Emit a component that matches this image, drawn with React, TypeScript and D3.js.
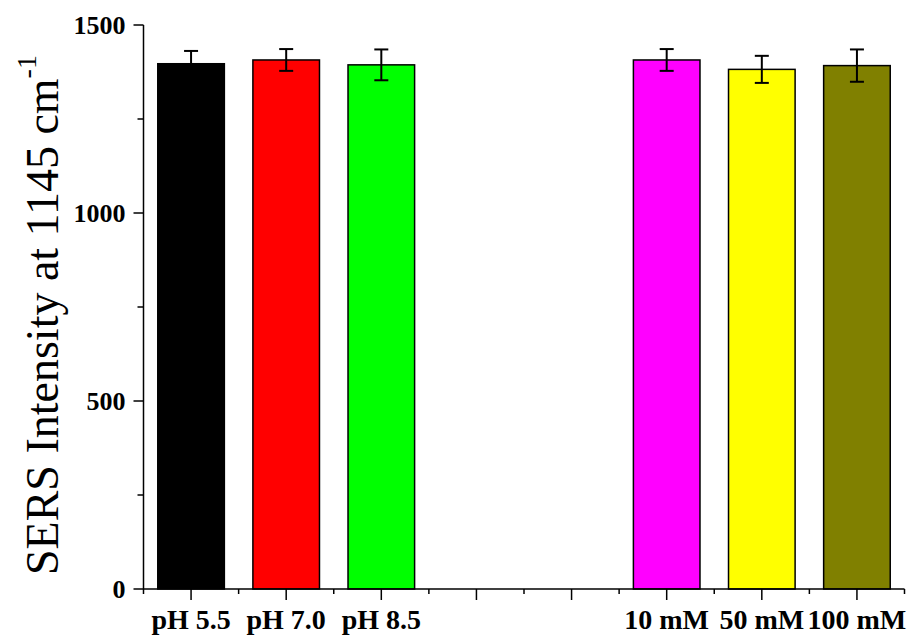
import React from "react";
import * as d3 from "d3";

const categories = ["pH 5.5", "pH 7.0", "pH 8.5", "", " ", "10 mM", "50 mM", "100 mM"];
const values = [1397, 1407, 1394, null, null, 1407, 1382, 1392];
const errors = [34, 29, 41, null, null, 29, 36, 43];
const colors = ["#000000", "#ff0000", "#00ff00", null, null, "#ff00ff", "#ffff00", "#808000"];
const yTicks = [0, 500, 1000, 1500];
const yMinorTicks = [250, 750, 1250];

const W = 914;
const H = 637;
const left = 143.5;
const right = 904.5;
const top = 25;
const bottom = 589;

export default function App() {
  const x = d3.scaleBand<string>().domain(categories).range([left, right]).paddingInner(0.3).paddingOuter(0.15);
  const y = d3.scaleLinear().domain([0, 1500]).range([bottom, top]);
  const step = x.step();
  const font = "'Liberation Serif', 'Times New Roman', serif";

  const boundaries = d3.range(categories.length + 1).map((i) => left + i * step);

  return (
    <svg width={W} height={H} style={{ position: "absolute", left: 0, top: 0, background: "#fff" }}>
      <rect x={0} y={0} width={W} height={H} fill="#fff" />
      {/* bars */}
      {categories.map((c, i) => {
        const v = values[i];
        if (v == null) return null;
        const e = errors[i] as number;
        const cx = (x(c) as number) + x.bandwidth() / 2;
        return (
          <g key={i}>
            <rect
              x={x(c)}
              y={y(v)}
              width={x.bandwidth()}
              height={bottom - y(v)}
              fill={colors[i] as string}
              stroke="#000"
              strokeWidth={1.5}
            />
            <line x1={cx} x2={cx} y1={y(v + e)} y2={y(v - e)} stroke="#000" strokeWidth={2} />
            <line x1={cx - 7} x2={cx + 7} y1={y(v + e)} y2={y(v + e)} stroke="#000" strokeWidth={2} />
            <line x1={cx - 7} x2={cx + 7} y1={y(v - e)} y2={y(v - e)} stroke="#000" strokeWidth={2} />
          </g>
        );
      })}
      {/* y axis */}
      <line x1={left} x2={left} y1={top} y2={bottom} stroke="#000" strokeWidth={1.5} />
      {yTicks.map((t) => (
        <g key={t}>
          <line x1={left - 10} x2={left} y1={y(t)} y2={y(t)} stroke="#000" strokeWidth={1.5} />
          <text
            x={left - 18}
            y={y(t)}
            dy="0.35em"
            textAnchor="end"
            fontFamily={font}
            fontWeight="bold"
            fontSize={26}
          >
            {t}
          </text>
        </g>
      ))}
      {yMinorTicks.map((t) => (
        <line key={t} x1={left - 6} x2={left} y1={y(t)} y2={y(t)} stroke="#000" strokeWidth={1.5} />
      ))}
      {/* x axis */}
      <line x1={left} x2={right} y1={bottom} y2={bottom} stroke="#000" strokeWidth={1.5} />
      {boundaries.map((b, i) => (
        <line key={i} x1={b} x2={b} y1={bottom} y2={bottom + 5} stroke="#000" strokeWidth={1.5} />
      ))}
      {categories.map((c, i) => {
        const cx = (x(c) as number) + x.bandwidth() / 2;
        return (
          <g key={i}>
            <line x1={cx} x2={cx} y1={bottom} y2={bottom + 11} stroke="#000" strokeWidth={1.5} />
            <text
              x={cx}
              y={629}
              textAnchor="middle"
              fontFamily={font}
              fontWeight="bold"
              fontSize={28}
            >
              {c.trim()}
            </text>
          </g>
        );
      })}
      {/* y title */}
      <text
        transform={`translate(58, ${bottom - 14}) rotate(-90)`}
        fontFamily={font}
        fontSize={46}
      >
        SERS Intensity at 1145 cm
        <tspan fontSize={28} dy={-22}>-1</tspan>
      </text>
    </svg>
  );
}
